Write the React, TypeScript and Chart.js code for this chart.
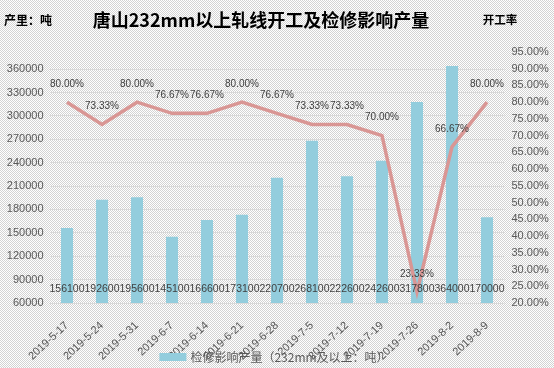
import React, { useEffect, useRef } from "react";
import { Chart, registerables } from "chart.js";

Chart.register(...registerables);

const titleText = "唐山232mm以上轧线开工及检修影响产量";
const leftUnitText = "产里：吨";
const rightUnitText = "开工率";
const barSeriesName = "检修影响产量（232mm及以上：吨）";
const lineSeriesName = "开工率";

const categories = [
  "2019-5-17", "2019-5-24", "2019-5-31", "2019-6-7", "2019-6-14", "2019-6-21", "2019-6-28",
  "2019-7-5", "2019-7-12", "2019-7-19", "2019-7-26", "2019-8-2", "2019-8-9",
];
const outputValues = [156100, 192600, 195600, 145100, 166600, 173100, 220700, 268100, 222600, 242600, 317800, 364000, 170000];
const runRates = [80, 73.33, 80, 76.67, 76.67, 80, 76.67, 73.33, 73.33, 70, 23.33, 66.67, 80];
const leftTicks = [60000, 90000, 120000, 150000, 180000, 210000, 240000, 270000, 300000, 330000, 360000];
const rightTicks = [20, 25, 30, 35, 40, 45, 50, 55, 60, 65, 70, 75, 80, 85, 90, 95];

const BAR_COLOR = "#93cddd";
const LINE_COLOR = "#d99694";
const TICK_COLOR = "#595959";
const LABEL_COLOR = "#404040";
const FONT = "'Liberation Sans', 'Noto Sans CJK SC', sans-serif";
const CJK = "'Noto Sans CJK SC', 'Liberation Sans', sans-serif";

export default function App() {
  const ref = useRef<HTMLCanvasElement | null>(null);

  useEffect(() => {
    if (!ref.current) return;
    document.body.style.margin = "0";

    const tile = document.createElement("canvas");
    tile.width = 2;
    tile.height = 2;
    const tctx = tile.getContext("2d")!;
    tctx.fillStyle = "#ffffff";
    tctx.fillRect(0, 0, 2, 2);
    tctx.fillStyle = "#d3d3d3";
    tctx.fillRect(0, 0, 1, 1);
    tctx.fillRect(1, 1, 1, 1);

    const bgPlugin = {
      id: "bg",
      beforeDraw(chart: any) {
        const ctx = chart.ctx;
        const pat = ctx.createPattern(tile, "repeat");
        ctx.save();
        ctx.fillStyle = pat;
        ctx.fillRect(0, 0, chart.width, chart.height);
        ctx.restore();
      },
    };

    const labelsPlugin = {
      id: "labels",
      afterDatasetsDraw(chart: any) {
        const ctx = chart.ctx;
        ctx.save();
        ctx.fillStyle = LABEL_COLOR;
        ctx.textAlign = "center";
        ctx.textBaseline = "middle";
        const barMeta = chart.getDatasetMeta(0);
        const base = chart.scales.y.getPixelForValue(leftTicks[0]);
        ctx.font = `10.5px ${FONT}`;
        barMeta.data.forEach((el: any, i: number) => {
          ctx.fillText(String(outputValues[i]), el.x, base - 14);
        });
        const lineMeta = chart.getDatasetMeta(1);
        ctx.font = `10px ${FONT}`;
        lineMeta.data.forEach((el: any, i: number) => {
          ctx.fillText(runRates[i].toFixed(2) + "%", el.x, el.y - 18);
        });
        ctx.restore();
      },
      afterDraw(chart: any) {
        const ctx = chart.ctx;
        ctx.save();
        ctx.fillStyle = "#000000";
        ctx.textBaseline = "middle";
        ctx.textAlign = "center";
        ctx.font = `bold 18px ${CJK}`;
        ctx.fillText(titleText, 261, 20);
        ctx.textAlign = "left";
        ctx.font = `bold 12px ${CJK}`;
        ctx.fillText(leftUnitText, 4, 20);
        ctx.textAlign = "center";
        ctx.font = `bold 11.5px ${CJK}`;
        ctx.fillText(rightUnitText, 500, 20);

        // legend (bar series only)
        const ds = chart.data.datasets[0];
        ctx.font = `12px ${CJK}`;
        const tw = ctx.measureText(ds.label).width;
        const boxW = 27;
        const gap = 4;
        const total = boxW + gap + tw;
        const x0 = 274 - total / 2;
        const cy = 357;
        ctx.fillStyle = ds.backgroundColor;
        ctx.fillRect(x0, cy - 4, boxW, 8);
        ctx.fillStyle = TICK_COLOR;
        ctx.textAlign = "left";
        ctx.fillText(ds.label, x0 + boxW + gap, cy);
        ctx.restore();
      },
    };

    const chart = new Chart(ref.current, {
      type: "bar",
      data: {
        labels: categories,
        datasets: [
          {
            type: "bar",
            label: barSeriesName,
            data: outputValues,
            backgroundColor: BAR_COLOR,
            yAxisID: "y",
            order: 2,
            categoryPercentage: 0.8,
            barPercentage: 0.43,
          } as any,
          {
            type: "line",
            label: lineSeriesName,
            data: runRates,
            borderColor: LINE_COLOR,
            backgroundColor: LINE_COLOR,
            borderWidth: 3.5,
            pointRadius: 0,
            tension: 0,
            yAxisID: "y1",
            order: 1,
          } as any,
        ],
      },
      options: {
        animation: false,
        responsive: true,
        maintainAspectRatio: false,
        layout: { padding: { top: 52, left: 0, right: 0, bottom: 0 }, autoPadding: false },
        plugins: {
          title: { display: false },
          tooltip: { enabled: false },
          legend: { display: false },
        },
        scales: {
          x: {
            type: "category",
            offset: true,
            grid: { display: false },
            border: { display: false },
            ticks: {
              color: TICK_COLOR,
              font: { size: 11, family: FONT },
              minRotation: 43,
              maxRotation: 43,
              autoSkip: false,
              padding: 8,
            },
            afterFit: (s: any) => {
              s.height = 368 - 303;
            },
          },
          y: {
            type: "linear",
            position: "left",
            min: 60000,
            max: 382000,
            grid: { color: "#d9d9d9", drawTicks: false, lineWidth: 1 },
            border: { display: false },
            ticks: {
              color: TICK_COLOR,
              font: { size: 11, family: FONT },
              padding: 6,
              callback: (v: any) => String(v),
            },
            afterBuildTicks: (s: any) => {
              s.ticks = leftTicks.map((v) => ({ value: v }));
            },
            afterFit: (s: any) => {
              s.width = 49.5;
            },
          },
          y1: {
            type: "linear",
            position: "right",
            min: 20,
            max: 95,
            grid: { display: false, drawTicks: false },
            border: { display: false },
            ticks: {
              color: TICK_COLOR,
              font: { size: 11, family: FONT },
              padding: 7,
              callback: (v: any) => Number(v).toFixed(2) + "%",
            },
            afterBuildTicks: (s: any) => {
              s.ticks = rightTicks.map((v) => ({ value: v }));
            },
            afterFit: (s: any) => {
              s.width = 49.5;
            },
          },
        },
      } as any,
      plugins: [bgPlugin, labelsPlugin],
    });

    return () => chart.destroy();
  }, []);

  return (
    <div style={{ position: "absolute", left: 0, top: 0, width: 554, height: 368 }}>
      <canvas ref={ref} />
    </div>
  );
}
